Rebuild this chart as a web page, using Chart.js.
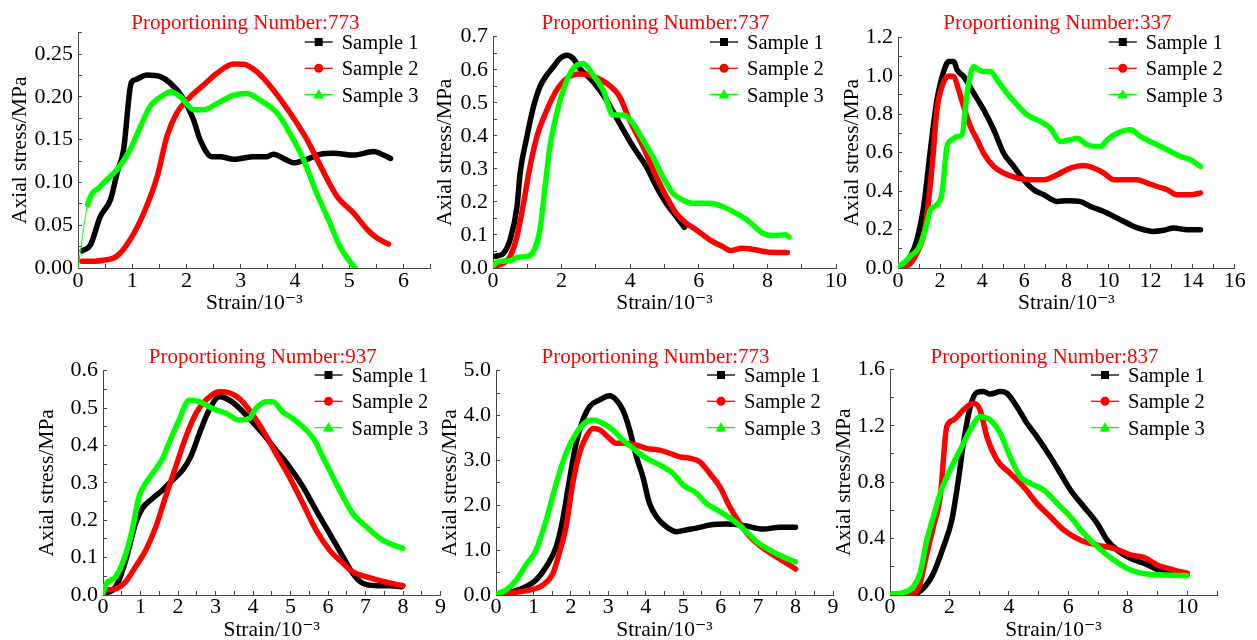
<!DOCTYPE html>
<html>
<head>
    <meta charset="utf-8" />
    <title>Stress-strain curves</title>
    <style>
        html, body {
            margin: 0;
            padding: 0;
            background: #ffffff;
            overflow: hidden;
        }

        #page {
            position: relative;
            width: 1257px;
            height: 640px;
        }

        .panel {
            position: absolute;
        }
    </style>
</head>
<body>
    <div id="page"></div>

    <script src="https://cdn.jsdelivr.net/npm/chart.js"></script>
    <script>
        // ---- data: [strain (10^-3), axial stress (MPa)] ----
        const titles = [
            'Proportioning Number:773',
            'Proportioning Number:737',
            'Proportioning Number:337',
            'Proportioning Number:937',
            'Proportioning Number:773',
            'Proportioning Number:837'
        ];
        const sampleNames = ['Sample 1', 'Sample 2', 'Sample 3'];
        const xAxisTitle = 'Strain/10\u207B\u00B3';
        const yAxisTitle = 'Axial stress/MPa';

        const p1s1 = [[0.08,0.02],[0.23,0.027],[0.41,0.06],[0.6,0.08],[0.72,0.111],[0.84,0.138],[0.98,0.216],[1.06,0.22],[1.27,0.2255],[1.52,0.2235],[1.7,0.216],[1.92,0.2],[2.13,0.173],[2.25,0.15],[2.47,0.13],[2.62,0.13],[2.87,0.127],[3.24,0.13],[3.48,0.13],[3.6,0.133],[3.85,0.126],[3.97,0.123],[4.22,0.127],[4.47,0.133],[4.71,0.134],[5.08,0.132],[5.45,0.136],[5.63,0.132],[5.76,0.128]];
        const p1s2 = [[0.07,0.008],[0.3,0.008],[0.47,0.009],[0.72,0.014],[0.96,0.033],[1.21,0.064],[1.46,0.107],[1.64,0.154],[1.82,0.181],[2.07,0.2],[2.32,0.214],[2.56,0.2275],[2.87,0.2384],[3.05,0.238],[3.3,0.229],[3.6,0.208],[3.91,0.181],[4.22,0.15],[4.47,0.119],[4.77,0.084],[5.08,0.064],[5.33,0.045],[5.51,0.035],[5.72,0.028]];
        const p1s3 = [[0,0],[0.18,0.074],[0.41,0.095],[0.72,0.115],[0.96,0.138],[1.15,0.165],[1.33,0.189],[1.58,0.202],[1.7,0.206],[1.89,0.2],[2.13,0.185],[2.32,0.185],[2.56,0.192],[2.87,0.202],[3.11,0.204],[3.36,0.196],[3.67,0.181],[3.91,0.157],[4.16,0.126],[4.4,0.087],[4.62,0.056],[4.83,0.025],[5.08,0.002],[5.11,0]];

        const p2s1 = [[0.07,0.035],[0.31,0.045],[0.5,0.086],[0.7,0.186],[0.79,0.287],[0.99,0.398],[1.18,0.488],[1.37,0.549],[1.57,0.584],[1.76,0.609],[1.95,0.634],[2.15,0.644],[2.34,0.634],[2.53,0.604],[2.92,0.564],[3.31,0.508],[3.69,0.438],[4.08,0.368],[4.47,0.307],[4.76,0.247],[5.05,0.196],[5.34,0.156],[5.58,0.123]];
        const p2s2 = [[0.02,0.005],[0.31,0.015],[0.5,0.035],[0.7,0.096],[0.89,0.196],[1.08,0.307],[1.28,0.398],[1.57,0.478],[1.86,0.539],[2.15,0.574],[2.53,0.587],[2.82,0.584],[3.31,0.559],[3.69,0.519],[3.98,0.448],[4.37,0.368],[4.76,0.277],[5.05,0.217],[5.34,0.166],[5.63,0.136],[5.92,0.116],[6.31,0.086],[6.69,0.065],[6.93,0.053],[7.27,0.06],[7.56,0.057],[8.05,0.048],[8.58,0.047]];
        const p2s3 = [[0,0.005],[0.12,0.018],[0.5,0.022],[0.7,0.032],[0.99,0.035],[1.18,0.05],[1.37,0.116],[1.52,0.247],[1.66,0.368],[1.86,0.468],[2.05,0.539],[2.34,0.604],[2.63,0.619],[2.92,0.584],[3.21,0.539],[3.5,0.463],[3.79,0.463],[4.08,0.438],[4.37,0.388],[4.66,0.337],[4.95,0.277],[5.24,0.227],[5.53,0.206],[5.82,0.196],[6.31,0.196],[6.69,0.186],[7.08,0.166],[7.46,0.141],[7.85,0.106],[8.14,0.098],[8.53,0.101],[8.63,0.094]];

        const p3s1 = [[0.11,0.009],[0.59,0.061],[0.9,0.147],[1.22,0.32],[1.54,0.615],[1.85,0.874],[2.17,1.022],[2.41,1.074],[2.65,1.074],[2.81,1.03],[3.12,0.996],[3.6,0.909],[4.07,0.823],[4.55,0.719],[5.02,0.597],[5.5,0.528],[5.97,0.459],[6.45,0.407],[6.93,0.381],[7.56,0.346],[8.03,0.35],[8.67,0.345],[9.14,0.32],[9.78,0.294],[10.25,0.268],[10.73,0.242],[11.2,0.216],[11.68,0.199],[12.08,0.19],[12.63,0.196],[13.1,0.208],[13.74,0.199],[14.37,0.199]];
        const p3s2 = [[0.11,0.009],[0.51,0.017],[0.9,0.078],[1.3,0.216],[1.62,0.528],[1.85,0.823],[2.09,0.944],[2.41,0.999],[2.65,0.996],[2.88,0.926],[3.12,0.84],[3.44,0.736],[3.76,0.667],[4.07,0.597],[4.55,0.528],[5.02,0.494],[5.66,0.468],[6.29,0.459],[6.93,0.459],[7.56,0.485],[8.19,0.52],[8.83,0.533],[9.3,0.52],[9.78,0.494],[10.25,0.459],[10.89,0.459],[11.36,0.459],[11.84,0.442],[12.31,0.424],[12.79,0.407],[13.26,0.381],[13.9,0.381],[14.37,0.39]];
        const p3s3 = [[0,0.009],[0.27,0.026],[0.59,0.061],[0.98,0.104],[1.3,0.199],[1.54,0.303],[1.85,0.329],[2.09,0.39],[2.33,0.632],[2.57,0.667],[2.81,0.684],[3.04,0.693],[3.28,0.909],[3.6,1.048],[3.84,1.03],[4.07,1.022],[4.39,1.022],[4.71,0.978],[5.18,0.909],[5.66,0.849],[6.13,0.797],[6.77,0.762],[7.24,0.727],[7.72,0.658],[8.19,0.667],[8.51,0.675],[8.99,0.641],[9.62,0.632],[9.94,0.667],[10.41,0.701],[11.05,0.719],[11.52,0.684],[12.16,0.649],[12.79,0.615],[13.42,0.58],[13.9,0.563],[14.37,0.528]];

        const p4s1 = [[0.07,0.004],[0.34,0.022],[0.61,0.094],[0.87,0.192],[1.05,0.232],[1.32,0.258],[1.59,0.281],[1.85,0.307],[2.12,0.334],[2.34,0.37],[2.57,0.432],[2.83,0.495],[3.1,0.53],[3.28,0.526],[3.55,0.508],[3.9,0.472],[4.26,0.432],[4.61,0.388],[4.97,0.343],[5.33,0.29],[5.68,0.227],[6.04,0.165],[6.4,0.102],[6.66,0.058],[6.93,0.031],[7.29,0.025],[7.64,0.025],[7.96,0.022]];
        const p4s2 = [[0.07,0.013],[0.38,0.018],[0.61,0.036],[0.87,0.076],[1.14,0.12],[1.41,0.183],[1.67,0.263],[1.94,0.343],[2.21,0.423],[2.48,0.486],[2.74,0.521],[3.1,0.544],[3.37,0.541],[3.63,0.526],[3.9,0.495],[4.26,0.441],[4.61,0.379],[4.97,0.316],[5.33,0.245],[5.68,0.174],[6.04,0.12],[6.4,0.085],[6.66,0.062],[7.02,0.049],[7.47,0.036],[8.0,0.025]];
        const p4s3 = [[0,0.003],[0.07,0.027],[0.34,0.049],[0.61,0.111],[0.78,0.174],[0.96,0.263],[1.14,0.299],[1.32,0.325],[1.59,0.365],[1.76,0.406],[2.03,0.468],[2.3,0.521],[2.57,0.517],[2.92,0.499],[3.28,0.486],[3.63,0.468],[3.9,0.472],[4.08,0.499],[4.35,0.517],[4.53,0.517],[4.79,0.49],[5.06,0.472],[5.33,0.45],[5.64,0.414],[5.86,0.37],[6.13,0.316],[6.4,0.263],[6.66,0.218],[7.02,0.183],[7.38,0.152],[7.73,0.134],[8.0,0.125]];

        const p5s1 = [[0.09,0.02],[0.45,0.074],[0.8,0.186],[1.07,0.334],[1.34,0.63],[1.61,1.077],[1.78,1.67],[1.96,2.56],[2.14,3.38],[2.32,3.9],[2.5,4.2],[2.77,4.35],[3.03,4.44],[3.21,4.35],[3.39,4.12],[3.57,3.68],[3.75,3.08],[3.92,2.64],[4.1,2.04],[4.28,1.75],[4.55,1.52],[4.82,1.41],[5.08,1.45],[5.35,1.49],[5.71,1.56],[6.16,1.58],[6.6,1.55],[7.14,1.47],[7.58,1.51],[8.0,1.51]];
        const p5s2 = [[0.09,0.01],[0.45,0.05],[0.89,0.11],[1.25,0.22],[1.52,0.48],[1.69,0.93],[1.87,1.52],[2.05,2.49],[2.23,3.16],[2.41,3.53],[2.59,3.71],[2.77,3.68],[3.03,3.49],[3.21,3.38],[3.48,3.38],[3.75,3.34],[4.01,3.27],[4.37,3.23],[4.64,3.16],[4.91,3.08],[5.17,3.05],[5.44,2.97],[5.71,2.71],[5.98,2.41],[6.24,1.97],[6.51,1.6],[6.78,1.3],[7.14,1.04],[7.49,0.85],[7.76,0.71],[8.0,0.58]];
        const p5s3 = [[0,0.02],[0.27,0.11],[0.54,0.33],[0.8,0.67],[1.07,1.0],[1.34,1.67],[1.61,2.49],[1.87,3.16],[2.14,3.6],[2.41,3.86],[2.59,3.9],[2.85,3.83],[3.12,3.68],[3.39,3.45],[3.66,3.27],[4.01,3.05],[4.37,2.9],[4.73,2.71],[5.0,2.45],[5.35,2.27],[5.62,2.04],[5.98,1.86],[6.33,1.67],[6.69,1.41],[6.96,1.19],[7.31,1.0],[7.67,0.85],[8.0,0.74]];

        const p6s1 = [[0,0.007],[0.79,0.007],[1.12,0.047],[1.46,0.154],[1.8,0.343],[2.08,0.532],[2.3,0.815],[2.47,1.075],[2.7,1.335],[2.92,1.435],[3.15,1.442],[3.37,1.425],[3.71,1.442],[3.93,1.43],[4.27,1.335],[4.61,1.217],[4.94,1.123],[5.39,0.981],[5.73,0.863],[6.07,0.744],[6.52,0.626],[6.97,0.508],[7.3,0.39],[7.64,0.319],[8.09,0.26],[8.54,0.225],[8.99,0.182],[9.44,0.165],[10.0,0.142]];
        const p6s2 = [[0,0],[0.79,0.007],[1.01,0.083],[1.24,0.295],[1.46,0.484],[1.69,0.697],[1.91,1.193],[2.13,1.24],[2.47,1.312],[2.81,1.359],[3.03,1.312],[3.26,1.123],[3.6,0.957],[4.04,0.863],[4.49,0.768],[4.94,0.65],[5.39,0.555],[5.84,0.461],[6.4,0.39],[6.97,0.354],[7.53,0.331],[8.09,0.284],[8.54,0.267],[8.99,0.213],[9.55,0.177],[10.0,0.154]];
        const p6s3 = [[0,0.007],[0.45,0.017],[0.79,0.059],[1.01,0.154],[1.24,0.39],[1.46,0.555],[1.69,0.721],[2.02,0.886],[2.36,1.028],[2.7,1.17],[3.03,1.264],[3.37,1.241],[3.71,1.146],[4.04,0.981],[4.38,0.839],[4.72,0.792],[5.17,0.744],[5.62,0.65],[6.07,0.555],[6.52,0.437],[6.97,0.343],[7.53,0.248],[8.09,0.177],[8.65,0.149],[9.21,0.142],[10.0,0.137]];

        // ---- look ----
        const FONT = '"Liberation Serif", "Times New Roman", "DejaVu Serif", serif';
        const TICK_SIZE = 22;
        const AXIS_TITLE_SIZE = 21.5;
        const colors = ['#000000', '#ff0000', '#00ff00'];
        const markers = ['square', 'circle', 'triangle'];
        const AXIS = '#444444';

        // where each panel sits on the page (plot box edges in page pixels)
        const panels = [
            { series: [p1s1, p1s2, p1s3], left: 0,   top: 0,   w: 440, plotL: 78,  plotR: 430.7, plotT: 32.6,  plotB: 268, yTitleX: 20,  xTitleY: 303, titleY: 29, legendY: 42, xPad: 4,
              xMax: 6.5, xStep: 0.5, xMajor: 1, yMax: 0.275, yStep: 0.025, yMajor: 0.05, yDec: 2, thinStart: true },
            { series: [p2s1, p2s2, p2s3], left: 420, top: 0,   w: 440, plotL: 493, plotR: 836,   plotT: 36.7,  plotB: 268, yTitleX: 445, xTitleY: 303, titleY: 29, legendY: 42, xPad: 4,
              xMax: 10, xStep: 1, xMajor: 2, yMax: 0.7, yStep: 0.05, yMajor: 0.1, yDec: 1 },
            { series: [p3s1, p3s2, p3s3], left: 837, top: 0,   w: 420, plotL: 898, plotR: 1234.8, plotT: 37.3, plotB: 268, yTitleX: 852, xTitleY: 303, titleY: 29, legendY: 42, xPad: 4,
              xMax: 16, xStep: 1, xMajor: 2, yMax: 1.2, yStep: 0.1, yMajor: 0.2, yDec: 1 },
            { series: [p4s1, p4s2, p4s3], left: 0,   top: 320, w: 460, plotL: 103, plotR: 440.5, plotT: 370.7, plotB: 595, yTitleX: 47,  xTitleY: 630, titleY: 43, legendY: 55, xPad: 3,
              xMax: 9, xStep: 0.5, xMajor: 1, yMax: 0.6, yStep: 0.05, yMajor: 0.1, yDec: 1 },
            { series: [p5s1, p5s2, p5s3], left: 420, top: 320, w: 440, plotL: 496, plotR: 833,   plotT: 370.7, plotB: 595, yTitleX: 450, xTitleY: 630, titleY: 43, legendY: 55, xPad: 3,
              xMax: 9, xStep: 0.5, xMajor: 1, yMax: 5, yStep: 0.5, yMajor: 1, yDec: 1 },
            { series: [p6s1, p6s2, p6s3], left: 830, top: 320, w: 427, plotL: 890, plotR: 1217,  plotT: 369.3, plotB: 595, yTitleX: 844, xTitleY: 630, titleY: 43, legendY: 55, xPad: 3,
              xMax: 11, xStep: 1, xMajor: 2, yMax: 1.6, yStep: 0.2, yMajor: 0.4, yDec: 1 }
        ];

        function isMajor(v, major) {
            const r = v / major;
            return Math.abs(r - Math.round(r)) < 1e-6;
        }

        function drawMarker(ctx, kind, x, y) {
            ctx.beginPath();
            if (kind === 'square') {
                ctx.rect(x - 4, y - 4, 8, 8);
            } else if (kind === 'circle') {
                ctx.arc(x, y, 4.5, 0, Math.PI * 2);
            } else {
                ctx.moveTo(x, y - 5.5);
                ctx.lineTo(x + 5.5, y + 4);
                ctx.lineTo(x - 5.5, y + 4);
                ctx.closePath();
            }
            ctx.fill();
        }

        // red panel title + line/marker legend
        const panelDecor = {
            id: 'panelDecor',
            afterDraw(chart, args, opts) {
                const { ctx, chartArea } = chart;
                ctx.save();
                ctx.textBaseline = 'alphabetic';
                ctx.font = '21px ' + FONT;
                ctx.fillStyle = '#ff0000';
                ctx.textAlign = 'center';
                ctx.fillText(opts.title, (chartArea.left + chartArea.right) / 2 - 9, opts.titleY);

                ctx.font = '20.5px ' + FONT;
                ctx.textAlign = 'left';
                const x0 = chartArea.right - 126;
                chart.data.datasets.forEach((ds, i) => {
                    const y = opts.legendY + i * 26.3;
                    ctx.strokeStyle = ds.borderColor;
                    ctx.fillStyle = ds.borderColor;
                    ctx.lineWidth = 1.3;
                    ctx.beginPath();
                    ctx.moveTo(x0, y);
                    ctx.lineTo(x0 + 28, y);
                    ctx.stroke();
                    drawMarker(ctx, markers[i], x0 + 14, y);
                    ctx.fillStyle = '#000000';
                    ctx.fillText(ds.label, x0 + 37, y + 7);
                });
                ctx.restore();
            }
        };

        const page = document.getElementById('page');

        panels.forEach((p, idx) => {
            const h = 320;
            const half = AXIS_TITLE_SIZE / 2;
            const padL = p.yTitleX - p.left - half;
            const padT = p.plotT - p.top;
            const padR = p.left + p.w - p.plotR;
            const padB = p.top + h - p.xTitleY - half;
            const yW = p.plotL - p.left - padL;
            const xH = p.top + h - padB - p.plotB;

            const div = document.createElement('div');
            div.className = 'panel';
            div.style.left = p.left + 'px';
            div.style.top = p.top + 'px';
            const canvas = document.createElement('canvas');
            canvas.width = p.w;
            canvas.height = h;
            div.appendChild(canvas);
            page.appendChild(div);

            const datasets = p.series.map((s, i) => {
                const ds = {
                    label: sampleNames[i],
                    data: s.map(([x, y]) => ({ x: x, y: y })),
                    borderColor: colors[i],
                    backgroundColor: colors[i],
                    borderWidth: 5.5,
                    borderCapStyle: 'round',
                    borderJoinStyle: 'round',
                    pointRadius: 0,
                    cubicInterpolationMode: 'monotone',
                    fill: false,
                    order: 3 - i
                };
                if (p.thinStart && i === 2) {
                    ds.segment = { borderWidth: c => (c.p0DataIndex === 0 ? 1 : undefined) };
                }
                return ds;
            });

            new Chart(canvas.getContext('2d'), {
                type: 'line',
                data: { datasets: datasets },
                options: {
                    responsive: false,
                    animation: false,
                    devicePixelRatio: 1,
                    layout: { padding: { left: padL, top: padT, right: padR, bottom: padB } },
                    plugins: {
                        legend: { display: false },
                        tooltip: { enabled: false },
                        title: { display: false },
                        panelDecor: { title: titles[idx], titleY: p.titleY, legendY: p.legendY }
                    },
                    scales: {
                        x: {
                            type: 'linear',
                            min: 0,
                            max: p.xMax,
                            ticks: {
                                stepSize: p.xStep,
                                autoSkip: false,
                                maxRotation: 0,
                                minRotation: 0,
                                padding: p.xPad,
                                color: '#000000',
                                font: { family: FONT, size: TICK_SIZE },
                                callback: v => (isMajor(v, p.xMajor) ? String(Math.round(v)) : '')
                            },
                            grid: { drawOnChartArea: false, drawTicks: true, tickLength: -4, color: AXIS, tickColor: AXIS },
                            border: { display: true, color: AXIS, width: 1 },
                            title: { display: true, text: xAxisTitle, color: '#000000', font: { family: FONT, size: AXIS_TITLE_SIZE, lineHeight: 1 }, padding: 0 },
                            afterFit: s => { s.height = xH; }
                        },
                        y: {
                            type: 'linear',
                            min: 0,
                            max: p.yMax,
                            ticks: {
                                stepSize: p.yStep,
                                autoSkip: false,
                                padding: 9,
                                color: '#000000',
                                font: { family: FONT, size: TICK_SIZE },
                                callback: v => (isMajor(v, p.yMajor) ? v.toFixed(p.yDec) : '')
                            },
                            grid: { drawOnChartArea: false, drawTicks: true, tickLength: -4, color: AXIS, tickColor: AXIS },
                            border: { display: true, color: AXIS, width: 1 },
                            title: { display: true, text: yAxisTitle, color: '#000000', font: { family: FONT, size: AXIS_TITLE_SIZE, lineHeight: 1 }, padding: 0 },
                            afterFit: s => { s.width = yW; }
                        }
                    }
                },
                plugins: [panelDecor]
            });
        });
    </script>
</body>
</html>
